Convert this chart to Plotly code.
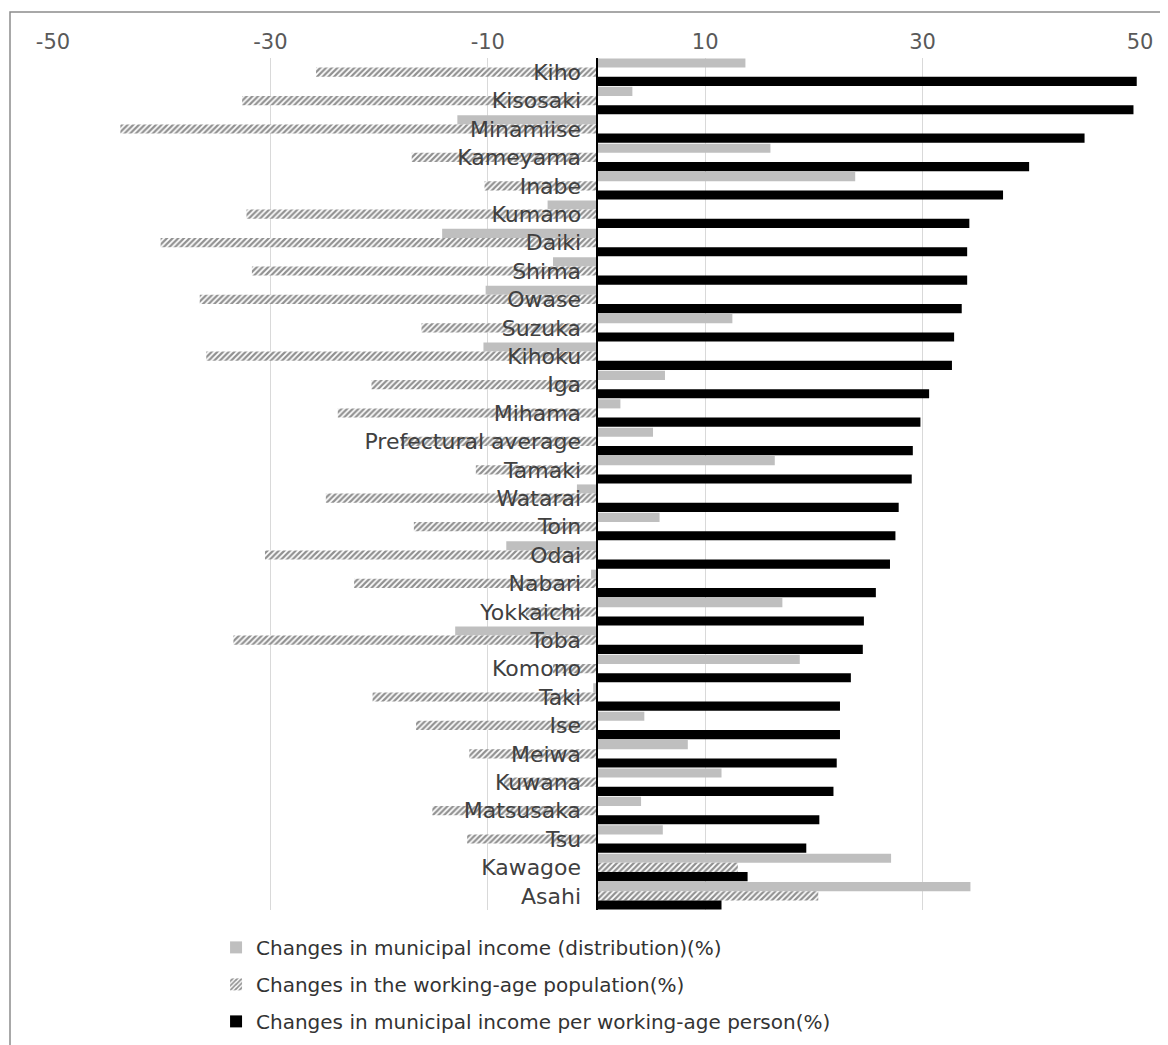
import plotly.graph_objects as go

categories = ["Kiho", "Kisosaki", "Minamiise", "Kameyama", "Inabe", "Kumano", "Daiki", "Shima",
              "Owase", "Suzuka", "Kihoku", "Iga", "Mihama", "Prefectural average", "Tamaki",
              "Watarai", "Toin", "Odai", "Nabari", "Yokkaichi", "Toba", "Komono", "Taki", "Ise",
              "Meiwa", "Kuwana", "Matsusaka", "Tsu", "Kawagoe", "Asahi"]

income_distribution = [13.7, 3.3, -12.8, 16.0, 23.8, -4.5, -14.2, -4.0, -10.2, 12.5, -10.4, 6.3,
                       2.2, 5.2, 16.4, -1.8, 5.8, -8.3, -0.5, 17.1, -13.0, 18.7, -0.3, 4.4,
                       8.4, 11.5, 4.1, 6.1, 27.1, 34.4]

working_age_pop = [-25.8, -32.6, -43.8, -17.0, -10.3, -32.2, -40.1, -31.7, -36.5, -16.1, -35.9,
                   -20.7, -23.8, -18.0, -11.1, -24.9, -16.8, -30.5, -22.3, -6.5, -33.4, -4.0,
                   -20.6, -16.6, -11.7, -8.5, -15.1, -11.9, 13.0, 20.4]

income_per_person = [49.7, 49.4, 44.9, 39.8, 37.4, 34.3, 34.1, 34.1, 33.6, 32.9, 32.7, 30.6,
                     29.8, 29.1, 29.0, 27.8, 27.5, 27.0, 25.7, 24.6, 24.5, 23.4, 22.4, 22.4,
                     22.1, 21.8, 20.5, 19.3, 13.9, 11.5]

x_ticks = [-50, -30, -10, 10, 30, 50]

FONT = "DejaVu Sans"

fig = go.Figure()
fig.add_trace(go.Bar(
    y=categories, x=income_distribution, orientation="h",
    name="Changes in municipal income (distribution)(%)", legendgroup="a",
    marker=dict(color="#bfbfbf", line=dict(width=0)),
))
fig.add_trace(go.Bar(
    y=categories, x=working_age_pop, orientation="h",
    name="Changes in the working-age population(%)", legendgroup="b",
    marker=dict(color="white", line=dict(width=0),
                pattern=dict(shape="/", fgcolor="#222222", bgcolor="white", size=4, solidity=0.55)),
))
fig.add_trace(go.Bar(
    y=categories, x=income_per_person, orientation="h",
    name="Changes in municipal income per working-age person(%)", legendgroup="c",
    marker=dict(color="black", line=dict(width=0)),
))

# body has an 8px margin in the page: figure spans (8..1168, 8..1045)
fig.update_layout(
    width=1160, height=1037,
    margin=dict(l=45, r=28, t=50, b=135, autoexpand=False),
    paper_bgcolor="white", plot_bgcolor="white",
    barmode="group", bargap=0.03, bargroupgap=0,
    font=dict(family=FONT, color="#404040"),
    showlegend=True,
    legend=dict(
        x=0.15, y=-0.021, xanchor="left", yanchor="top",
        orientation="v", traceorder="grouped",
        font=dict(family=FONT, size=20, color="#333333"),
        itemwidth=30, tracegroupgap=8, bgcolor="rgba(0,0,0,0)",
    ),
    xaxis=dict(
        range=[-50, 50], side="top", tickmode="array", tickvals=x_ticks,
        ticktext=[str(v) for v in x_ticks],
        showgrid=True, gridcolor="#d9d9d9", gridwidth=1,
        zeroline=False, showline=False, ticks="",
        ticklabelstandoff=4,
        tickfont=dict(family=FONT, size=21, color="#595959"),
        fixedrange=True,
    ),
    yaxis=dict(
        categoryorder="array", categoryarray=categories, autorange="reversed",
        anchor="free", position=0.5,
        showline=True, linecolor="black", linewidth=2,
        showgrid=False, zeroline=False, ticks="",
        ticklabelstandoff=10,
        tickfont=dict(family=FONT, size=22, color="#404040"),
    ),
    shapes=[dict(type="rect", xref="paper", yref="paper",
                 x0=(2 - 45) / 1087, x1=1.1, y0=-0.5, y1=1 + (50 - 4) / 852,
                 line=dict(color="#8c8c8c", width=1.5), fillcolor="rgba(0,0,0,0)", layer="below")],
)

fig.write_html("out.html")
